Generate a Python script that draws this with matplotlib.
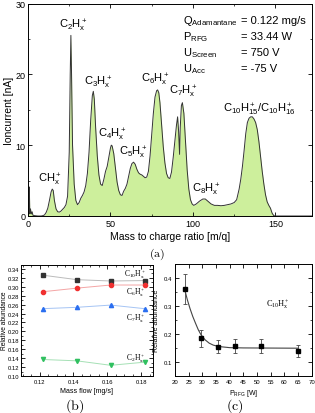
import matplotlib
matplotlib.use("Agg")
import matplotlib.pyplot as plt
from matplotlib.ticker import MultipleLocator

plt.rcParams['font.family'] = ['Liberation Sans', 'DejaVu Sans']
plt.rcParams['mathtext.fontset'] = 'cm'
plt.rcParams['mathtext.default'] = 'regular'

# --- (a) mass spectrum ---
mq = [0, 0.5, 0.8, 1.1, 1.5, 2, 2.5, 3, 4, 6, 8, 9, 10, 11, 12, 13, 14, 14.7, 15.3,
      16, 17, 18, 19, 20, 21, 22, 23, 24, 25, 25.6, 26, 26.4, 27, 28, 29, 30, 31, 32,
      33, 34, 35, 36, 37, 38, 39, 39.6, 40.2, 41, 42, 43, 44, 45, 46, 47, 48, 49, 50,
      50.5, 51, 52, 53, 54, 55, 56, 57, 58, 59, 60, 61, 62, 63, 64, 65, 66, 67, 68, 69,
      70, 71, 72, 73, 74, 75, 76, 77, 78, 78.6, 79.3, 80, 81, 82, 83, 84, 85, 86, 87,
      88, 89, 90, 90.7, 91.3, 91.9, 92.3, 93, 93.6, 94.5, 95.5, 96.5, 97.5, 98.5, 99.5,
      100.5, 102, 104, 106, 107.5, 109, 111, 113, 115, 117, 119, 121, 123, 125, 126.5,
      128, 129, 130, 131, 132, 133, 134, 135, 136, 137, 138, 139, 140, 141, 142, 143,
      144, 145, 146, 147, 148, 149, 150, 160, 172]
current = [0, 0.5, 4.1, 0.3, 1.0, 0.3, 0.6, 0.1, 0.05, 0, 0, 0.05, 0.15, 0.5, 1.1, 2.2,
           3.4, 3.8, 3.6, 2.2, 1.0, 0.6, 0.55, 0.7, 0.95, 1.2, 1.6, 2.8, 9, 20, 25.5, 20,
           10, 4.5, 2.2, 1.6, 1.9, 2.5, 2.9, 3.4, 4.3, 6, 9, 13.5, 17, 17.6, 16.5, 12.5,
           8.5, 5.8, 4.5, 4.3, 5.2, 6.3, 7.0, 8.3, 9.6, 10, 9.9, 8.8, 6.8, 4.8, 3.6, 3.0,
           2.9, 3.5, 3.9, 4.5, 5.6, 6.7, 7.4, 7.6, 7.3, 6.6, 6.1, 5.9, 5.8, 5.6, 5.4, 5.5,
           6.3, 8.5, 11.5, 14.5, 16.8, 17.7, 17.8, 17.4, 16, 13, 9.8, 7.5, 6.0, 5.4, 5.3,
           6.2, 8.2, 10.5, 12.8, 14.0, 12, 8.7, 12.5, 15.6, 16.0, 14.5, 10.5, 6.5, 3.8,
           2.3, 1.7, 1.5, 1.7, 2.1, 2.4, 2.4, 2.1, 1.7, 1.5, 1.5, 1.45, 1.5, 1.6, 1.7,
           1.9, 2.3, 3.8, 5.2, 7.0, 9.2, 11.6, 13.2, 13.8, 14.0, 14.0, 13.7, 13.2, 12.2,
           10.5, 8.4, 6.3, 4.5, 3.0, 2.0, 1.5, 1.1, 0.4, 0.05, 0, 0, 0]

peak_labels = [r'CH$_x^+$', r'C$_2$H$_x^+$', r'C$_3$H$_x^+$', r'C$_4$H$_x^+$',
               r'C$_5$H$_x^+$', r'C$_6$H$_x^+$', r'C$_7$H$_x^+$', r'C$_8$H$_x^+$',
               r'C$_{10}$H$_{15}^+$/C$_{10}$H$_{16}^+$']
peak_x = [13.5, 27.5, 42.5, 51.0, 63.8, 77.0, 94.0, 108.3, 140.6]
peak_y = [5.3, 27.0, 19.0, 11.6, 9.0, 19.3, 17.6, 3.8, 15.1]

params = [r'Q$_{Adamantane}$', r'P$_{RFG}$', r'U$_{Screen}$', r'U$_{Acc}$']
param_vals = ['= 0.122 mg/s', '= 33.44 W', '= 750 V', '= -75 V']

# --- (b) relative abundance vs mass flow ---
flow = [0.122, 0.142, 0.162, 0.182]
c10 = [0.326, 0.316, 0.313, 0.314]
c6 = [0.289, 0.297, 0.304, 0.304]
c7 = [0.251, 0.254, 0.259, 0.251]
c2 = [0.137, 0.134, 0.124, 0.131]

# --- (c) relative abundance vs RFG power ---
power = [23.5, 29.5, 35.8, 42.0, 51.3, 65.0]
rel = [0.36, 0.185, 0.155, 0.157, 0.157, 0.14]
rel_err = [0.055, 0.03, 0.024, 0.024, 0.024, 0.021]
fit_p = [23.5, 24.5, 25.5, 26.5, 27.5, 28.5, 29.5, 31, 32.5, 34, 36, 40, 45, 65]
fit_r = [0.36, 0.322, 0.29, 0.262, 0.238, 0.215, 0.197, 0.179, 0.167, 0.16, 0.155,
         0.151, 0.15, 0.149]

W, H = 315, 414
fig = plt.figure(figsize=(W / 100, H / 100), dpi=100)


def box(l, t, r, b):
    return [l / W, 1 - b / H, (r - l) / W, (b - t) / H]


def style(ax, size):
    ax.tick_params(which='both', direction='in', top=True, right=True,
                   labelsize=size, pad=2)
    ax.tick_params(which='major', length=3, width=0.6)
    ax.tick_params(which='minor', length=1.5, width=0.5)
    for s in ax.spines.values():
        s.set_linewidth(0.7)


# (a)
ax = fig.add_axes(box(28, 4.5, 311.7, 217))
ax.fill_between(mq, current, color='#cdef9c', lw=0)
ax.plot(mq, current, color='#333333', lw=0.7)
ax.set_xlim(0, 172)
ax.set_ylim(0, 30)
ax.xaxis.set_major_locator(MultipleLocator(50))
ax.xaxis.set_minor_locator(MultipleLocator(25))
ax.yaxis.set_major_locator(MultipleLocator(10))
ax.yaxis.set_minor_locator(MultipleLocator(5))
style(ax, 6.5)
ax.set_xlabel('Mass to charge ratio [m/q]', fontsize=7.5, labelpad=2)
ax.set_ylabel('Ioncurrent [nA]', fontsize=7.5, labelpad=1)
for lab, x, y in zip(peak_labels, peak_x, peak_y):
    ax.text(x, y, lab, ha='center', va='center', fontsize=8)
for i, (p, v) in enumerate(zip(params, param_vals)):
    y = 27.7 - i * 2.25
    ax.text(94, y, p, ha='left', va='center', fontsize=8)
    ax.text(129, y, v, ha='left', va='center', fontsize=8)
fig.text(157 / W, 1 - 254 / H, r'$\mathrm{(a)}$', ha='center', va='center', fontsize=8.5)

# (b)
bx = fig.add_axes(box(21, 265.5, 153, 377))
bx.plot(flow, c10, color='#bbbbbb', lw=0.7)
bx.plot(flow, c10, 's', color='#333333', ms=3)
bx.plot(flow, c6, color='#f4a5a5', lw=0.7)
bx.plot(flow, c6, 'o', color='#f03030', ms=3)
bx.plot(flow, c7, color='#a5c4f4', lw=0.7)
bx.plot(flow, c7, '^', color='#2a6ef0', ms=3)
bx.plot(flow, c2, color='#a5e0b5', lw=0.7)
bx.plot(flow, c2, 'v', color='#30c060', ms=3)
bx.set_xlim(0.109, 0.187)
bx.set_ylim(0.10, 0.35)
bx.set_xticks([0.12, 0.14, 0.16, 0.18])
bx.xaxis.set_minor_locator(MultipleLocator(0.005))
bx.set_yticks([0.10, 0.12, 0.14, 0.16, 0.18, 0.20, 0.22, 0.24, 0.26, 0.28, 0.30,
               0.32, 0.34])
bx.yaxis.set_minor_locator(MultipleLocator(0.01))
style(bx, 4.2)
bx.tick_params(axis='y', pad=1.2)
bx.set_xlabel('Mass flow [mg/s]', fontsize=5, labelpad=2)
bx.set_ylabel('Relative abundance', fontsize=4.8)
bx.yaxis.set_label_coords(-0.1, 0.5)
for lab, y in zip([r'C$_{10}$H$_x^+$', r'C$_6$H$_x^+$', r'C$_7$H$_x^+$', r'C$_2$H$_x^+$'],
                  [0.330, 0.289, 0.230, 0.141]):
    bx.text(0.1765, y, lab, ha='center', va='center', fontsize=5.5,
            family='Liberation Serif')
fig.text(75 / W, 1 - 406 / H, r'$\mathrm{(b)}$', ha='center', va='center', fontsize=10)

# (c)
cx = fig.add_axes(box(175, 264.7, 311.7, 377))
cx.plot(fit_p, fit_r, color='#444444', lw=0.8)
cx.errorbar(power, rel, yerr=rel_err, fmt='s', color='black', ms=3.2,
            ecolor='#444444', elinewidth=0.6, capsize=1.5, capthick=0.6)
cx.set_xlim(20, 70)
cx.set_ylim(0.05, 0.45)
cx.xaxis.set_major_locator(MultipleLocator(5))
cx.yaxis.set_major_locator(MultipleLocator(0.1))
cx.yaxis.set_minor_locator(MultipleLocator(0.05))
style(cx, 4.3)
cx.set_xlabel(r'P$_{RFG}$ [W]', fontsize=5, labelpad=2)
cx.set_ylabel('Relative abundance', fontsize=5, labelpad=3)
cx.text(57.8, 0.307, r'C$_{10}$H$_x^+$', ha='center', va='center', fontsize=6,
        family='Liberation Serif')
fig.text(235 / W, 1 - 406 / H, r'$\mathrm{(c)}$', ha='center', va='center', fontsize=10)

fig.savefig('out.png', dpi=100)
